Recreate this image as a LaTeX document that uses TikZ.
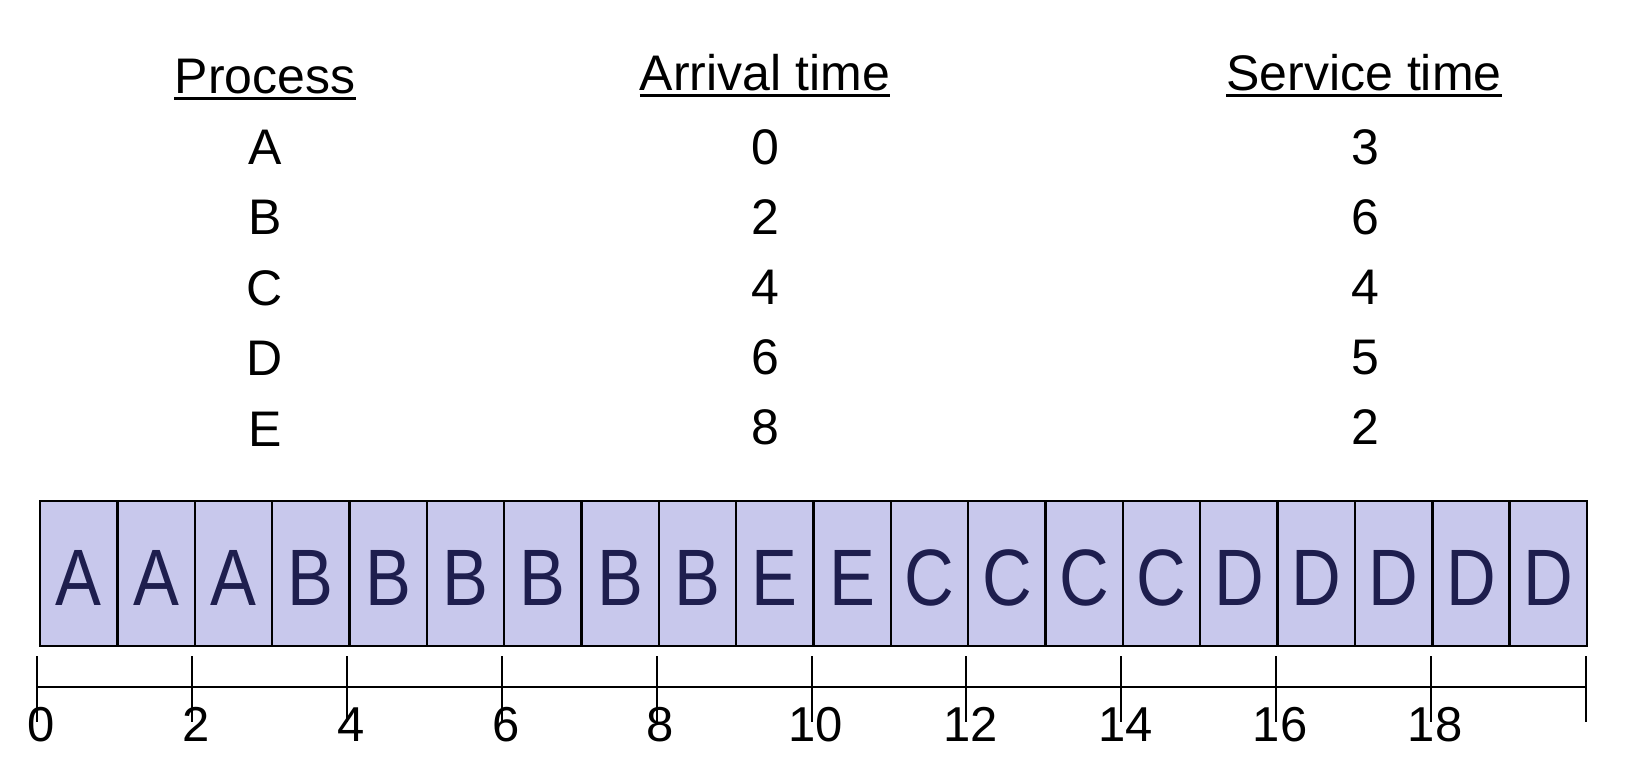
\documentclass[tikz,border=0pt]{standalone}
\usepackage{fontspec}
\setmainfont{Liberation Sans}
\newfontfamily\boxfont[FakeStretch=0.86]{Liberation Sans}
\usetikzlibrary{calc}
\definecolor{cellfill}{RGB}{200,200,236}
\definecolor{cellink}{RGB}{30,30,78}
\tikzset{
  tabtext/.style={font=\fontsize{50}{50}\selectfont, inner sep=0pt, anchor=base},
  celltext/.style={font=\boxfont\fontsize{80}{80}\selectfont, text=cellink, inner sep=0pt},
  cellbox/.style={draw=black, line width=2.4pt, fill=cellfill},
  axisline/.style={line width=2pt},
  ticklabel/.style={font=\fontsize{49}{49}\selectfont, inner sep=0pt, anchor=base},
  uline/.style={line width=2.5pt}
}
\begin{document}
\begin{tikzpicture}[x=1pt,y=-1pt]
\useasboundingbox (0,0) rectangle (1640,756);
% headers
\node[tabtext] (hp) at (265,93) {Process};
\node[tabtext] (ha) at (765,90) {Arrival time};
\node[tabtext] (hs) at (1364,90) {Service time};
\foreach \n in {hp,ha,hs}{
  \draw[uline] ($(\n.base west)+(0,5.5)$) -- ($(\n.base east)+(0,5.5)$);
}
% rows
\foreach \p/\a/\s [count=\i from 0] in {A/0/3,B/2/6,C/4/4,D/6/5,E/8/2}{
  \node[tabtext] (p\i) at (265,{164+70.5*\i}) {\p};
  \node[tabtext] (a\i) at (765,{164+70*\i}) {\a};
  \node[tabtext] (s\i) at (1365,{164+70*\i}) {\s};
}
% cells
\def\cw{77.35}
\foreach \L [count=\i from 0] in {A,A,A,B,B,B,B,B,B,E,E,C,C,C,C,D,D,D,D,D}{
  \path[cellbox] ({40+\cw*\i},501) rectangle ({40+\cw*(\i+1)},646);
  \node[celltext] (c\i) at ({40+\cw*(\i+0.5)},578) {\L};
}
% axis
\coordinate (ax0) at (37,686.7);
\coordinate (ax20) at ({37+77.45*20},686.7);
\draw[axisline] (ax0) -- (ax20);
\foreach \k in {0,2,...,18}{
  \node[ticklabel] (t\k) at ({37+77.45*\k+4},741.5) {\k};
}
\foreach \k in {0,2,...,20}{
  \draw[axisline] ({37+77.45*\k},656) -- ({37+77.45*\k},722);
}
\end{tikzpicture}
\end{document}
